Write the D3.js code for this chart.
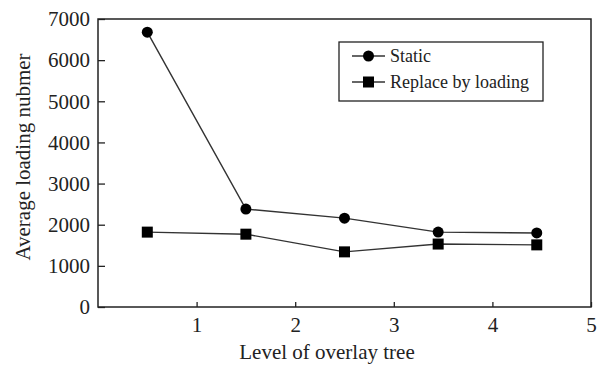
<!DOCTYPE html>
<html>
<head>
<meta charset="utf-8">
<script src="https://cdn.jsdelivr.net/npm/d3@7"></script>
<style>
  body { margin: 0; background: #fff; }
  svg { display: block; font-family: "Liberation Serif", "DejaVu Serif", serif; }
</style>
</head>
<body>
<svg id="chart" width="598" height="365"></svg>
<script>
// data
const levels = [0.5, 1.5, 2.5, 3.45, 4.45];
const staticValues = [6680, 2380, 2160, 1820, 1800];
const replaceValues = [1820, 1770, 1340, 1530, 1510];
const seriesNames = ["Static", "Replace by loading"];
const xTicks = [1, 2, 3, 4, 5];
const yTicks = [0, 1000, 2000, 3000, 4000, 5000, 6000, 7000];

const svg = d3.select("#chart");
const plot = { left: 98, right: 591, top: 19, bottom: 307 };
const ink = "#222";

const x = d3.scaleLinear().domain([0, 5]).range([plot.left, plot.right]);
const y = d3.scaleLinear().domain([0, 7000]).range([plot.bottom, plot.top]);

// axes, ticks pointing inward
const xAxis = svg.append("g").attr("transform", "translate(0," + plot.bottom + ")")
  .call(d3.axisBottom(x).tickValues(xTicks).tickFormat(d3.format("d"))
    .tickSizeInner(-5).tickSizeOuter(0).tickPadding(10));
const yAxis = svg.append("g").attr("transform", "translate(" + plot.left + ",0)")
  .call(d3.axisLeft(y).tickValues(yTicks).tickFormat(d3.format("d"))
    .tickSizeInner(-7).tickSizeOuter(0).tickPadding(8));

[xAxis, yAxis].forEach(a => {
  a.select(".domain").remove();
  a.selectAll("line").attr("stroke", ink).attr("stroke-width", 1.3);
  a.selectAll("text").attr("fill", ink).style("font-size", "21px")
    .style("font-family", "Liberation Serif");
});

// frame
svg.append("rect")
  .attr("x", plot.left).attr("y", plot.top)
  .attr("width", plot.right - plot.left).attr("height", plot.bottom - plot.top)
  .attr("fill", "none").attr("stroke", ink).attr("stroke-width", 1.5);

// axis titles
svg.append("text")
  .attr("x", 327).attr("y", 359)
  .attr("text-anchor", "middle").attr("fill", ink)
  .style("font-size", "21px")
  .text("Level of overlay tree");

svg.append("text")
  .attr("transform", "translate(30,157) rotate(-90)")
  .attr("text-anchor", "middle").attr("fill", ink)
  .style("font-size", "21px")
  .text("Average loading nubmer");

// series
const line = d3.line().x((d, i) => x(levels[i])).y(d => y(d));

function drawMarker(g, shape, cx, cy) {
  if (shape === "circle") {
    g.append("circle").attr("cx", cx).attr("cy", cy).attr("r", 5.5).attr("fill", "#000");
  } else {
    g.append("rect").attr("x", cx - 5.5).attr("y", cy - 5.5)
      .attr("width", 11).attr("height", 11).attr("fill", "#000");
  }
}

[[staticValues, "circle"], [replaceValues, "square"]].forEach(([vals, shape]) => {
  const g = svg.append("g");
  g.append("path").datum(vals).attr("d", line)
    .attr("fill", "none").attr("stroke", "#333").attr("stroke-width", 1.4);
  vals.forEach((v, i) => drawMarker(g, shape, x(levels[i]), y(v)));
});

// legend
const legend = svg.append("g");
legend.append("rect")
  .attr("x", 339).attr("y", 42).attr("width", 204).attr("height", 59)
  .attr("fill", "#fff").attr("stroke", ink).attr("stroke-width", 1.3);

seriesNames.forEach((name, i) => {
  const ly = 56 + i * 26;
  legend.append("line").attr("x1", 352).attr("x2", 385).attr("y1", ly).attr("y2", ly)
    .attr("stroke", "#333").attr("stroke-width", 1.4);
  drawMarker(legend, i === 0 ? "circle" : "square", 368.5, ly);
  legend.append("text").attr("x", 390).attr("y", ly + 6)
    .attr("fill", ink).style("font-size", "18px").text(name);
});
</script>
</body>
</html>
